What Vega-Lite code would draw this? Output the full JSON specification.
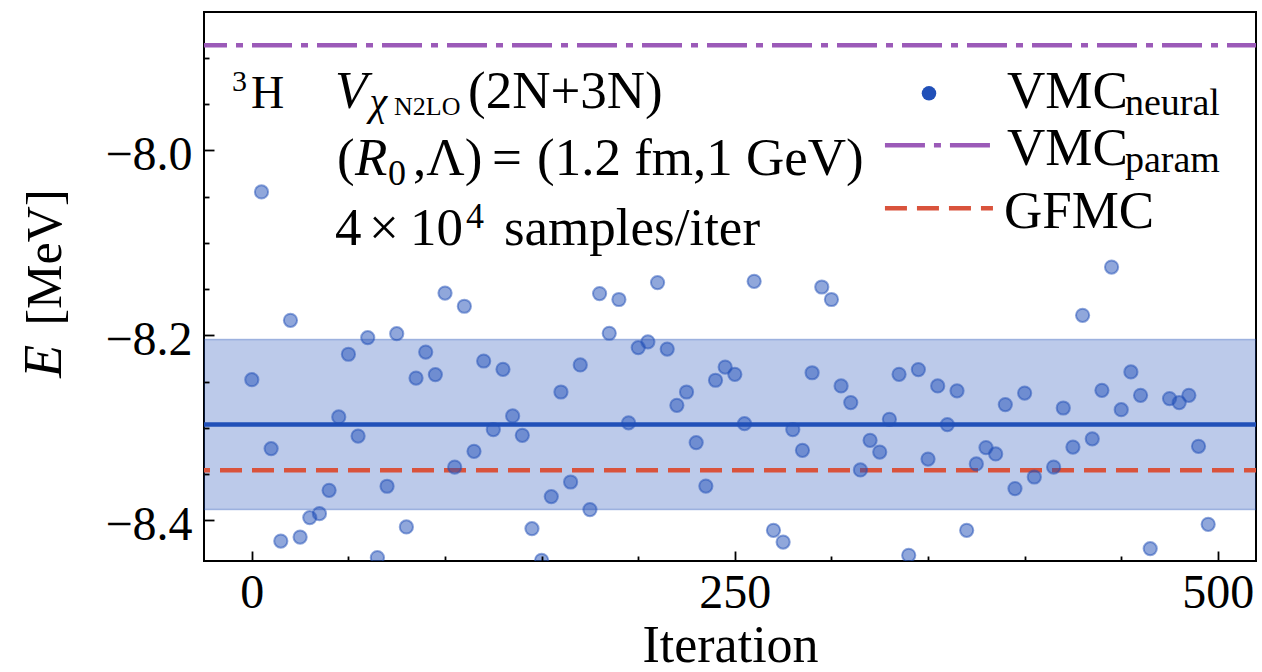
{
  "$schema": "https://vega.github.io/schema/vega-lite/v6.json",
  "width": 1052,
  "height": 549,
  "autosize": {"type": "none"},
  "padding": {"left": 204, "top": 12, "right": 6, "bottom": 111},
  "background": "white",
  "config": {
    "view": {"stroke": "#000", "strokeWidth": 2}
  },
  "datasets": {
    "pts": [
      {"i": 0, "E": -8.248}, {"i": 5, "E": -8.045}, {"i": 10, "E": -8.3225}, {"i": 15, "E": -8.4224},
      {"i": 20, "E": -8.1838}, {"i": 25, "E": -8.4181}, {"i": 30, "E": -8.3971}, {"i": 35, "E": -8.3928},
      {"i": 40, "E": -8.3676}, {"i": 45, "E": -8.2883}, {"i": 50, "E": -8.2205}, {"i": 55, "E": -8.3089},
      {"i": 60, "E": -8.2025}, {"i": 65, "E": -8.4403}, {"i": 70, "E": -8.3632}, {"i": 75, "E": -8.1982},
      {"i": 80, "E": -8.4072}, {"i": 85, "E": -8.2462}, {"i": 90, "E": -8.2181}, {"i": 95, "E": -8.2425},
      {"i": 100, "E": -8.1543}, {"i": 105, "E": -8.3424}, {"i": 110, "E": -8.1686}, {"i": 115, "E": -8.3254},
      {"i": 120, "E": -8.2278}, {"i": 125, "E": -8.3019}, {"i": 130, "E": -8.2368}, {"i": 135, "E": -8.2872},
      {"i": 140, "E": -8.3081}, {"i": 145, "E": -8.409}, {"i": 150, "E": -8.4432}, {"i": 155, "E": -8.3744},
      {"i": 160, "E": -8.2613}, {"i": 165, "E": -8.3586}, {"i": 170, "E": -8.2321}, {"i": 175, "E": -8.3884},
      {"i": 180, "E": -8.1549}, {"i": 185, "E": -8.1978}, {"i": 190, "E": -8.1613}, {"i": 195, "E": -8.2946},
      {"i": 200, "E": -8.2133}, {"i": 205, "E": -8.207}, {"i": 210, "E": -8.143}, {"i": 215, "E": -8.2149},
      {"i": 220, "E": -8.2757}, {"i": 225, "E": -8.2613}, {"i": 230, "E": -8.316}, {"i": 235, "E": -8.363},
      {"i": 240, "E": -8.2486}, {"i": 245, "E": -8.2343}, {"i": 250, "E": -8.2422}, {"i": 255, "E": -8.2955},
      {"i": 260, "E": -8.1416}, {"i": 265, "E": -8.465}, {"i": 270, "E": -8.4108}, {"i": 275, "E": -8.4235},
      {"i": 280, "E": -8.3019}, {"i": 285, "E": -8.3243}, {"i": 290, "E": -8.2405}, {"i": 295, "E": -8.1478},
      {"i": 300, "E": -8.1613}, {"i": 305, "E": -8.2548}, {"i": 310, "E": -8.2727}, {"i": 315, "E": -8.3456},
      {"i": 320, "E": -8.3135}, {"i": 325, "E": -8.3262}, {"i": 330, "E": -8.2908}, {"i": 335, "E": -8.2422},
      {"i": 340, "E": -8.4378}, {"i": 345, "E": -8.237}, {"i": 350, "E": -8.3338}, {"i": 355, "E": -8.2548},
      {"i": 360, "E": -8.2965}, {"i": 365, "E": -8.26}, {"i": 370, "E": -8.4108}, {"i": 375, "E": -8.3391},
      {"i": 380, "E": -8.3214}, {"i": 385, "E": -8.3283}, {"i": 390, "E": -8.2749}, {"i": 395, "E": -8.3657},
      {"i": 400, "E": -8.2624}, {"i": 405, "E": -8.3532}, {"i": 410, "E": -8.46}, {"i": 415, "E": -8.3424},
      {"i": 420, "E": -8.2786}, {"i": 425, "E": -8.3208}, {"i": 430, "E": -8.1784}, {"i": 435, "E": -8.3119},
      {"i": 440, "E": -8.2595}, {"i": 445, "E": -8.1262}, {"i": 450, "E": -8.2804}, {"i": 455, "E": -8.2396},
      {"i": 460, "E": -8.2649}, {"i": 465, "E": -8.4306}, {"i": 470, "E": -8.47}, {"i": 475, "E": -8.2684},
      {"i": 480, "E": -8.2727}, {"i": 485, "E": -8.2649}, {"i": 490, "E": -8.32}, {"i": 495, "E": -8.4043}
    ]
  },
  "resolve": {"axis": {"x": "independent", "y": "independent"}},
  "layer": [
    {
      "data": {"values": [{}]},
      "mark": {"type": "rect", "fill": "#2150b8", "fillOpacity": 0.3},
      "encoding": {
        "x": {"datum": -24.75, "type": "quantitative", "axis": null},
        "x2": {"datum": 519.75},
        "y": {"datum": -8.2046, "type": "quantitative", "axis": null},
        "y2": {"datum": -8.3884}
      }
    },
    {
      "data": {"values": [{}]},
      "mark": {"type": "rule", "color": "#2150b8", "strokeOpacity": 0.35, "strokeWidth": 1.5},
      "encoding": {"y": {"datum": -8.2046, "type": "quantitative", "axis": null}}
    },
    {
      "data": {"values": [{}]},
      "mark": {"type": "rule", "color": "#2150b8", "strokeOpacity": 0.35, "strokeWidth": 1.5},
      "encoding": {"y": {"datum": -8.3884, "type": "quantitative", "axis": null}}
    },
    {
      "data": {"values": [{}]},
      "mark": {"type": "rule", "color": "#2150b8", "strokeWidth": 4.5},
      "encoding": {"y": {"datum": -8.2965, "type": "quantitative", "axis": null}}
    },
    {
      "data": {"values": [{}]},
      "mark": {"type": "rule", "color": "#d9533c", "strokeWidth": 4.5, "strokeDash": [22, 10], "strokeDashOffset": 10},
      "encoding": {"y": {"datum": -8.346, "type": "quantitative", "axis": null}}
    },
    {
      "data": {"values": [{}]},
      "mark": {"type": "rule", "color": "#9b5ab8", "strokeWidth": 4.5, "strokeDash": [40, 9, 7, 9], "strokeDashOffset": 11},
      "encoding": {"y": {"datum": -7.8865, "type": "quantitative", "axis": null}}
    },
    {
      "data": {"name": "pts"},
      "mark": {"type": "circle", "size": 175, "fill": "#2150b8", "fillOpacity": 0.5, "stroke": "#2150b8", "strokeOpacity": 0.5, "strokeWidth": 2, "opacity": 1, "clip": true},
      "encoding": {
        "x": {
          "field": "i", "type": "quantitative",
          "scale": {"domain": [-24.75, 519.75], "nice": false, "zero": false},
          "axis": {
            "values": [0, 50, 100, 150, 200, 250, 300, 350, 400, 450, 500],
            "domain": false, "grid": false, "zindex": 2,
            "tickColor": "#000", "tickWidth": 1.8,
            "tickSize": {"condition": {"test": "datum.value % 250 === 0", "value": -10}, "value": -5},
            "labelExpr": "datum.value % 250 === 0 ? datum.label : ''",
            "labelFont": "Liberation Serif", "labelFontSize": 48, "labelColor": "#000",
            "labelBaseline": "alphabetic", "labelPadding": 56, "labelFlush": false, "labelOverlap": false,
            "title": "Iteration", "titleFont": "Liberation Serif", "titleFontSize": 52, "titleFontWeight": "normal",
            "titleColor": "#000", "titleBaseline": "alphabetic", "titleY": 100
          }
        },
        "y": {
          "field": "E", "type": "quantitative",
          "scale": {"domain": [-8.444, -7.8505], "nice": false, "zero": false},
          "axis": {
            "values": [-8.4, -8.35, -8.3, -8.25, -8.2, -8.15, -8.1, -8.05, -8.0, -7.95, -7.9],
            "domain": false, "grid": false, "zindex": 2,
            "tickColor": "#000", "tickWidth": 1.8,
            "tickSize": {"condition": {"test": "abs(datum.value*5 - round(datum.value*5)) < 1e-6", "value": -10}, "value": -5},
            "labelExpr": "abs(datum.value*5 - round(datum.value*5)) < 1e-6 ? replace(format(datum.value, '.1f'), '-', '−') : ''",
            "labelFont": "Liberation Serif", "labelFontSize": 48, "labelColor": "#000",
            "labelBaseline": "middle", "labelPadding": 22, "labelOffset": 5, "labelOverlap": false,
            "title": "[MeV]", "titleFont": "Liberation Serif", "titleFontSize": 50, "titleFontWeight": "normal",
            "titleColor": "#000", "titleX": -159, "titleY": 245, "titleAngle": 270, "titleAlign": "center", "titleBaseline": "middle"
          }
        }
      }
    },
    {"data": {"values": [{}]}, "mark": {"type": "text", "text": "E", "font": "Liberation Serif", "color": "#000", "fontSize": 54, "fontStyle": "italic", "angle": 270, "align": "center", "baseline": "middle"},
     "encoding": {"x": {"datum": -107.0, "type": "quantitative", "axis": null}, "y": {"datum": -8.2281, "type": "quantitative", "axis": null}}},
    {"data": {"values": [{}]}, "mark": {"type": "text", "text": "3", "font": "Liberation Serif", "color": "#000", "fontSize": 30, "align": "left", "baseline": "alphabetic"},
     "encoding": {"x": {"datum": -10.25, "type": "quantitative", "axis": null}, "y": {"datum": -7.9357, "type": "quantitative", "axis": null}}},
    {"data": {"values": [{}]}, "mark": {"type": "text", "text": "H", "font": "Liberation Serif", "color": "#000", "fontSize": 46, "align": "left", "baseline": "alphabetic"},
     "encoding": {"x": {"datum": -0.41, "type": "quantitative", "axis": null}, "y": {"datum": -7.9546, "type": "quantitative", "axis": null}}},
    {"data": {"values": [{}]}, "mark": {"type": "text", "text": "V", "font": "Liberation Serif", "color": "#000", "fontSize": 53, "fontStyle": "italic", "align": "left", "baseline": "alphabetic"},
     "encoding": {"x": {"datum": 43.06, "type": "quantitative", "axis": null}, "y": {"datum": -7.9546, "type": "quantitative", "axis": null}}},
    {"data": {"values": [{}]}, "mark": {"type": "text", "text": "χ", "font": "Liberation Serif", "color": "#000", "fontSize": 40, "fontStyle": "italic", "align": "left", "baseline": "alphabetic"},
     "encoding": {"x": {"datum": 60.9, "type": "quantitative", "axis": null}, "y": {"datum": -7.9622, "type": "quantitative", "axis": null}}},
    {"data": {"values": [{}]}, "mark": {"type": "text", "text": "N2LO", "font": "Liberation Serif", "color": "#000", "fontSize": 26, "align": "left", "baseline": "alphabetic"},
     "encoding": {"x": {"datum": 73.6, "type": "quantitative", "axis": null}, "y": {"datum": -7.9622, "type": "quantitative", "axis": null}}},
    {"data": {"values": [{}]}, "mark": {"type": "text", "text": "(2N+3N)", "font": "Liberation Serif", "color": "#000", "fontSize": 53, "align": "left", "baseline": "alphabetic"},
     "encoding": {"x": {"datum": 111.9, "type": "quantitative", "axis": null}, "y": {"datum": -7.9546, "type": "quantitative", "axis": null}}},
    {"data": {"values": [{}]}, "mark": {"type": "text", "text": "(", "font": "Liberation Serif", "color": "#000", "fontSize": 53, "align": "left", "baseline": "alphabetic"},
     "encoding": {"x": {"datum": 44.1, "type": "quantitative", "axis": null}, "y": {"datum": -8.027, "type": "quantitative", "axis": null}}},
    {"data": {"values": [{}]}, "mark": {"type": "text", "text": "R", "font": "Liberation Serif", "color": "#000", "fontSize": 53, "fontStyle": "italic", "align": "left", "baseline": "alphabetic"},
     "encoding": {"x": {"datum": 53.4, "type": "quantitative", "axis": null}, "y": {"datum": -8.027, "type": "quantitative", "axis": null}}},
    {"data": {"values": [{}]}, "mark": {"type": "text", "text": "0", "font": "Liberation Serif", "color": "#000", "fontSize": 36, "align": "left", "baseline": "alphabetic"},
     "encoding": {"x": {"datum": 70.5, "type": "quantitative", "axis": null}, "y": {"datum": -8.0378, "type": "quantitative", "axis": null}}},
    {"data": {"values": [{}]}, "mark": {"type": "text", "text": ",Λ)", "font": "Liberation Serif", "color": "#000", "fontSize": 53, "align": "left", "baseline": "alphabetic"},
     "encoding": {"x": {"datum": 83.4, "type": "quantitative", "axis": null}, "y": {"datum": -8.027, "type": "quantitative", "axis": null}}},
    {"data": {"values": [{}]}, "mark": {"type": "text", "text": "=", "font": "Liberation Serif", "color": "#000", "fontSize": 53, "align": "left", "baseline": "alphabetic"},
     "encoding": {"x": {"datum": 124.3, "type": "quantitative", "axis": null}, "y": {"datum": -8.027, "type": "quantitative", "axis": null}}},
    {"data": {"values": [{}]}, "mark": {"type": "text", "text": "(1.2 fm,1 GeV)", "font": "Liberation Serif", "color": "#000", "fontSize": 53, "align": "left", "baseline": "alphabetic"},
     "encoding": {"x": {"datum": 147.6, "type": "quantitative", "axis": null}, "y": {"datum": -8.027, "type": "quantitative", "axis": null}}},
    {"data": {"values": [{}]}, "mark": {"type": "text", "text": "4", "font": "Liberation Serif", "color": "#000", "fontSize": 53, "align": "left", "baseline": "alphabetic"},
     "encoding": {"x": {"datum": 43.06, "type": "quantitative", "axis": null}, "y": {"datum": -8.1027, "type": "quantitative", "axis": null}}},
    {"data": {"values": [{}]}, "mark": {"type": "text", "text": "×", "font": "Liberation Serif", "color": "#000", "fontSize": 53, "align": "left", "baseline": "alphabetic"},
     "encoding": {"x": {"datum": 60.6, "type": "quantitative", "axis": null}, "y": {"datum": -8.1027, "type": "quantitative", "axis": null}}},
    {"data": {"values": [{}]}, "mark": {"type": "text", "text": "10", "font": "Liberation Serif", "color": "#000", "fontSize": 53, "align": "left", "baseline": "alphabetic"},
     "encoding": {"x": {"datum": 81.9, "type": "quantitative", "axis": null}, "y": {"datum": -8.1027, "type": "quantitative", "axis": null}}},
    {"data": {"values": [{}]}, "mark": {"type": "text", "text": "4", "font": "Liberation Serif", "color": "#000", "fontSize": 36, "align": "left", "baseline": "alphabetic"},
     "encoding": {"x": {"datum": 110.9, "type": "quantitative", "axis": null}, "y": {"datum": -8.0843, "type": "quantitative", "axis": null}}},
    {"data": {"values": [{}]}, "mark": {"type": "text", "text": "samples/iter", "font": "Liberation Serif", "color": "#000", "fontSize": 53, "align": "left", "baseline": "alphabetic"},
     "encoding": {"x": {"datum": 130.5, "type": "quantitative", "axis": null}, "y": {"datum": -8.1027, "type": "quantitative", "axis": null}}},
    {"data": {"values": [{}]}, "mark": {"type": "circle", "size": 210, "color": "#2150b8", "opacity": 1},
     "encoding": {"x": {"datum": 350.5, "type": "quantitative", "axis": null}, "y": {"datum": -7.9384, "type": "quantitative", "axis": null}}},
    {"data": {"values": [{}]}, "mark": {"type": "text", "text": "VMC", "font": "Liberation Serif", "color": "#000", "fontSize": 53, "align": "left", "baseline": "alphabetic"},
     "encoding": {"x": {"datum": 390.9, "type": "quantitative", "axis": null}, "y": {"datum": -7.9546, "type": "quantitative", "axis": null}}},
    {"data": {"values": [{}]}, "mark": {"type": "text", "text": "neural", "font": "Liberation Serif", "color": "#000", "fontSize": 38, "align": "left", "baseline": "alphabetic"},
     "encoding": {"x": {"datum": 451.9, "type": "quantitative", "axis": null}, "y": {"datum": -7.9622, "type": "quantitative", "axis": null}}},
    {"data": {"values": [{}]}, "mark": {"type": "rule", "color": "#9b5ab8", "strokeWidth": 4.5, "strokeDash": [40, 9, 7, 9]},
     "encoding": {"x": {"datum": 327.7, "type": "quantitative", "axis": null}, "x2": {"datum": 382.1}, "y": {"datum": -7.9946, "type": "quantitative", "axis": null}}},
    {"data": {"values": [{}]}, "mark": {"type": "text", "text": "VMC", "font": "Liberation Serif", "color": "#000", "fontSize": 53, "align": "left", "baseline": "alphabetic"},
     "encoding": {"x": {"datum": 390.9, "type": "quantitative", "axis": null}, "y": {"datum": -8.0162, "type": "quantitative", "axis": null}}},
    {"data": {"values": [{}]}, "mark": {"type": "text", "text": "param", "font": "Liberation Serif", "color": "#000", "fontSize": 38, "align": "left", "baseline": "alphabetic"},
     "encoding": {"x": {"datum": 451.9, "type": "quantitative", "axis": null}, "y": {"datum": -8.0238, "type": "quantitative", "axis": null}}},
    {"data": {"values": [{}]}, "mark": {"type": "rule", "color": "#d9533c", "strokeWidth": 4.5, "strokeDash": [22, 10]},
     "encoding": {"x": {"datum": 327.7, "type": "quantitative", "axis": null}, "x2": {"datum": 383.6}, "y": {"datum": -8.0627, "type": "quantitative", "axis": null}}},
    {"data": {"values": [{}]}, "mark": {"type": "text", "text": "GFMC", "font": "Liberation Serif", "color": "#000", "fontSize": 53, "align": "left", "baseline": "alphabetic"},
     "encoding": {"x": {"datum": 389.3, "type": "quantitative", "axis": null}, "y": {"datum": -8.0843, "type": "quantitative", "axis": null}}}
  ]
}
